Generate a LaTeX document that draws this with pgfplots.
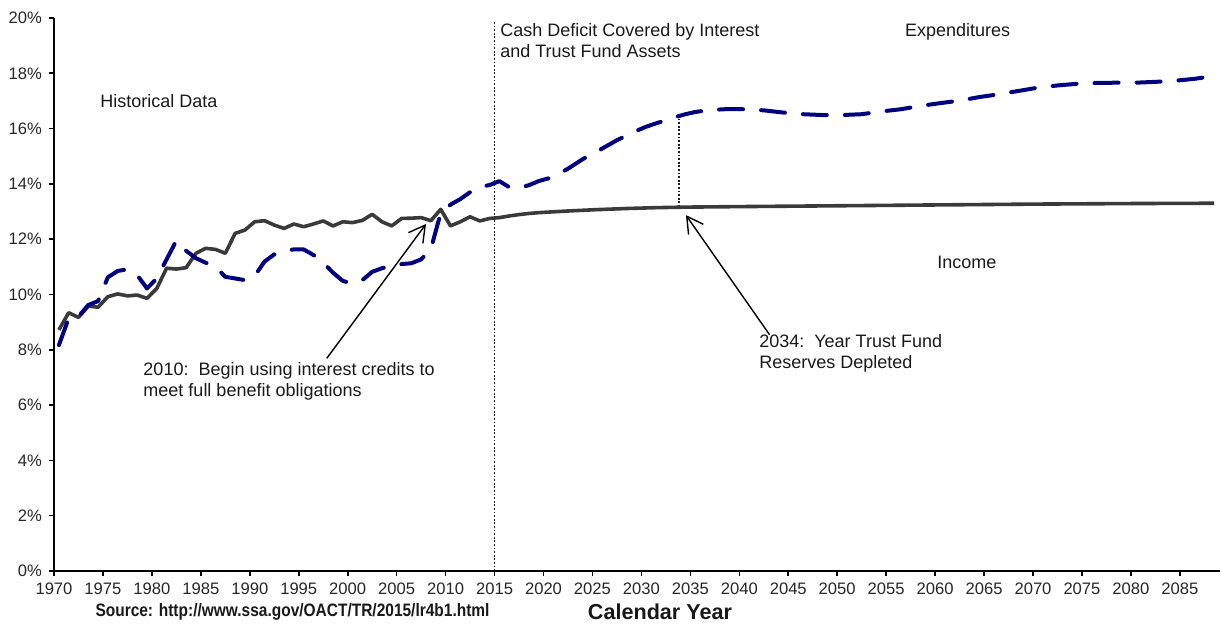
\documentclass[border=0pt]{standalone}
\usepackage{pgfplots}
\pgfplotsset{compat=1.18}
\usepackage{pgfplotstable}
\usepackage{fontspec}
\setmainfont{Liberation Sans}
\usetikzlibrary{arrows.meta}
\definecolor{incomegray}{HTML}{3A3A3A}
\definecolor{costnavy}{HTML}{000080}

% income as percent of taxable payroll
\pgfplotstableread{
year val
1970 8.72
1971 9.34
1972 9.17
1973 9.58
1974 9.54
1975 9.92
1976 10.02
1977 9.95
1978 9.98
1979 9.86
1980 10.22
1981 10.95
1982 10.92
1983 10.97
1984 11.49
1985 11.67
1986 11.63
1987 11.49
1988 12.21
1989 12.33
1990 12.63
1991 12.67
1992 12.51
1993 12.39
1994 12.55
1995 12.45
1996 12.55
1997 12.66
1998 12.48
1999 12.63
2000 12.60
2001 12.68
2002 12.90
2003 12.63
2004 12.48
2005 12.75
2006 12.76
2007 12.78
2008 12.67
2009 13.08
2010 12.48
2011 12.63
2012 12.81
2013 12.66
2014 12.75
2015 12.78
2016 12.84
2017 12.89
2018 12.93
2019 12.96
2020 12.98
2022 13.02
2025 13.07
2028 13.11
2031 13.14
2034 13.16
2040 13.18
2050 13.21
2060 13.24
2070 13.27
2080 13.29
2088 13.30
}\income

% expenditures (cost)
\pgfplotstableread{
year val
1970 8.17
1971 9.14
1972 9.20
1973 9.62
1974 9.76
1975 10.62
1976 10.85
1977 10.91
1978 10.70
1979 10.22
1980 10.58
1981 11.27
1982 11.95
1983 11.58
1984 11.31
1985 11.15
1986 11.00
1987 10.64
1988 10.58
1989 10.52
1990 10.67
1991 11.19
1992 11.45
1993 11.58
1994 11.63
1995 11.63
1996 11.43
1997 11.15
1998 10.79
1999 10.49
2000 10.40
2001 10.52
2002 10.82
2003 10.95
2004 11.04
2005 11.10
2006 11.13
2007 11.27
2008 11.65
2009 12.95
2010 13.25
2011 13.45
2012 13.70
2013 13.88
2014 13.96
2015 14.10
2016 13.88
2017 13.86
2018 13.95
2019 14.10
2020 14.20
2021 14.35
2022 14.55
2023 14.78
2024 15.00
2025 15.18
2026 15.38
2027 15.58
2028 15.75
2029 15.92
2030 16.07
2031 16.19
2032 16.30
2033 16.42
2034 16.52
2035 16.60
2036 16.65
2037 16.68
2038 16.70
2040 16.70
2042 16.66
2044 16.58
2046 16.52
2048 16.49
2050 16.49
2052 16.52
2054 16.62
2056 16.70
2058 16.82
2060 16.92
2062 17.01
2064 17.14
2066 17.24
2068 17.36
2070 17.48
2072 17.56
2074 17.62
2076 17.65
2078 17.66
2080 17.66
2082 17.69
2084 17.73
2086 17.80
2088 17.90
}\cost

\tikzset{note/.style={font=\fontsize{9}{10.5}\selectfont, align=left, inner sep=0pt, text=black!90}}

\begin{document}
\begin{tikzpicture}
\begin{axis}[
  scale only axis,
  width=583pt, height=276.5pt,
  xmin=1970, xmax=2089.1,
  ymin=0, ymax=20,
  axis lines*=left,
  axis line style={-, line width=0.8pt},
  xtick={1970,1975,...,2085},
  ytick={0,2,...,20},
  yticklabels={0\%,2\%,4\%,6\%,8\%,10\%,12\%,14\%,16\%,18\%,20\%},
  tick align=outside,
  major tick length=2.5pt,
  tick style={black, line width=0.8pt},
  /pgf/number format/assume math mode=true,
  /pgf/number format/1000 sep={},
  tick label style={font=\fontsize{8.3}{10}\selectfont, text=black!85},
  clip=false,
]
  \coordinate (o) at (rel axis cs:0,0);

  % --- dotted markers: start of cash deficit, reserve depletion
  \draw[black!90, line width=0.9pt, dash pattern=on 0.9pt off 0.9pt]
    (axis cs:2015,0) -- (axis cs:2015,19.85);
  \draw[black!90, line width=0.9pt, dash pattern=on 0.9pt off 0.9pt]
    (axis cs:2033.85,13.17) -- (axis cs:2033.85,16.45);

  % --- series
  \addplot[incomegray, line width=1.8pt, line join=round]
    table[x expr=\thisrow{year}+0.5, y=val] {\income};
  \addplot[costnavy, line width=2pt, line cap=round, line join=round,
    dash pattern=on 12pt off 9pt]
    table[x expr=\thisrow{year}+0.5, y=val] {\cost};

  % --- annotations
  \node[note, anchor=west] at (axis cs:1974.7,17.0) {Historical Data};
  \node[note, anchor=north west] at (axis cs:2015.55,19.83)
    {Cash Deficit Covered by Interest\\and Trust Fund Assets};
  \node[note, anchor=west] at (axis cs:2056.9,19.5) {Expenditures};
  \node[note, anchor=west] at (axis cs:2060.2,11.15) {Income};
  \node[note, anchor=north west] at (axis cs:1979.1,7.55)
    {2010:\ \ Begin using interest credits to\\meet full benefit obligations};
  \node[note, anchor=north west] at (axis cs:2042.0,8.58)
    {2034:\ \ Year Trust Fund\\Reserves Depleted};

  \draw[black, line width=0.7pt, -{Straight Barb[length=8pt,width=9pt]}]
    (axis cs:1997.86,7.69) -- (axis cs:2008.0,12.55);
  \draw[black, line width=0.7pt, -{Straight Barb[length=8pt,width=9pt]}]
    (axis cs:2043.1,8.54) -- (axis cs:2034.55,12.87);

  \node[note, font=\fontsize{10.8}{12}\bfseries] at (axis cs:2031.9,-1.47) {Calendar Year};
  \node[note, anchor=west] at (axis cs:1974.2,-1.47)
    {\scalebox{0.86}[1]{\fontsize{9}{10}\bfseries Source: http://www.ssa.gov/OACT/TR/2015/lr4b1.html}};
\end{axis}
\pgfresetboundingbox
\path[use as bounding box] (o) ++(-27pt,-27pt) rectangle ++(611pt,312.5pt);
\end{tikzpicture}
\end{document}
